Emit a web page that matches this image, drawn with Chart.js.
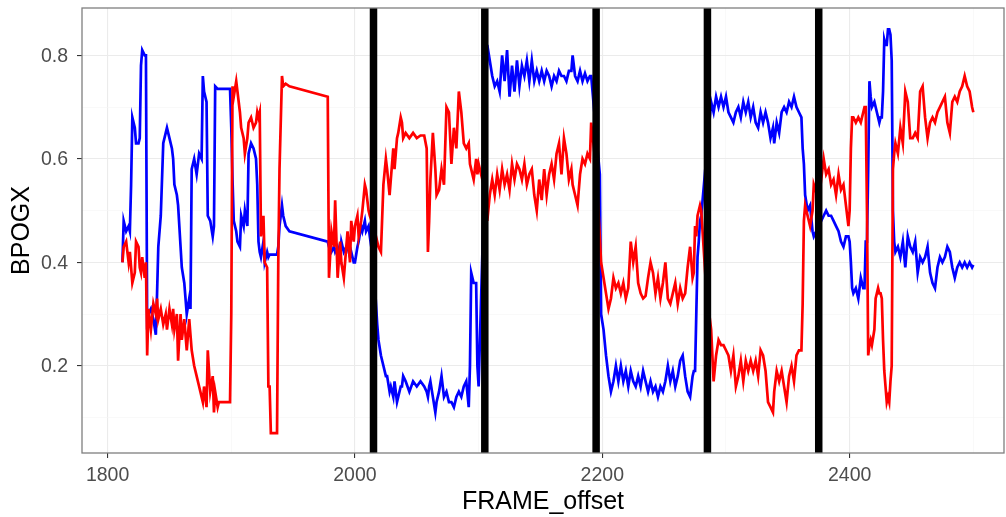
<!DOCTYPE html>
<html><head><meta charset="utf-8">
<script src="https://cdn.jsdelivr.net/npm/chart.js@4"></script>
<style>html,body{margin:0;padding:0;background:#fff;}canvas{display:block;}</style>
</head><body>
<canvas id="c" width="1006" height="517"></canvas>
<script>
const frames = [
1812,1813,1815,1817,1818,1819,1820,1822,1823,1825,
1826,1827,1828,1830,1831,1832,1833,1835,1837,1839,
1840,1841,1843,1845,1847,1848,1850,1852,1853,1854,
1856,1857,1859,1860,1862,1864,1866,1867,1868,1870,
1872,1874,1876,1877,1878,1880,1881,1883,1885,1886,
1887,1889,1890,1899,1900,1901,1902,1904,1905,1907,
1908,1910,1911,1913,1914,1916,1918,1920,1921,1922,
1923,1924,1926,1927,1929,1930,1931,1932,1937,1938,
1939,1941,1942,1944,1947,1978,1979,1981,1983,1984,
1986,1988,1989,1991,1993,1994,1996,1997,1999,2000,
2002,2003,2005,2006,2008,2009,2011,2012,2015,2018,
2019,2021,2023,2025,2026,2028,2029,2031,2032,2034,
2035,2037,2038,2039,2041,2044,2047,2050,2053,2056,
2058,2059,2060,2061,2063,2065,2066,2068,2070,2072,
2074,2076,2078,2080,2082,2084,2086,2088,2090,2092,
2093,2094,2096,2098,2099,2100,2104,2107,2109,2111,
2113,2115,2117,2119,2121,2123,2125,2127,2129,2131,
2133,2135,2137,2139,2141,2143,2145,2147,2149,2151,
2153,2155,2157,2159,2161,2163,2165,2167,2169,2171,
2173,2175,2176,2178,2180,2182,2184,2186,2188,2190,
2191,2195,2198,2199,2201,2203,2205,2207,2209,2211,
2213,2215,2217,2219,2221,2223,2225,2227,2229,2231,
2233,2235,2237,2239,2241,2243,2245,2247,2249,2251,
2253,2255,2257,2259,2261,2263,2265,2267,2269,2271,
2273,2274,2275,2276,2277,2278,2279,2280,2284,2288,
2290,2292,2294,2296,2298,2300,2302,2304,2306,2308,
2310,2312,2314,2316,2318,2320,2322,2324,2326,2328,
2330,2332,2334,2336,2338,2339,2341,2343,2345,2347,
2349,2351,2353,2355,2357,2359,2361,2362,2363,2364,
2366,2368,2370,2371,2375,2379,2381,2383,2385,2387,
2389,2391,2393,2395,2397,2399,2400,2401,2402,2403,
2405,2407,2409,2411,2412,2413,2414,2415,2416,2417,
2418,2420,2421,2422,2423,2424,2425,2426,2427,2428,
2429,2430,2431,2432,2433,2434,2435,2436,2437,2439,
2441,2443,2445,2447,2449,2451,2453,2455,2457,2459,
2461,2463,2465,2467,2469,2471,2473,2475,2477,2479,
2481,2483,2485,2487,2489,2491,2493,2495,2497,2499,2500
];
const blueValues = [
.40,.48,.46,.47,.46,.55,.68,.66,.63,.63,
.64,.78,.81,.80,.80,.27,.30,.31,.29,.26,
.34,.43,.49,.63,.65,.66,.64,.62,.60,.55,
.53,.51,.43,.39,.36,.30,.33,.31,.58,.60,
.57,.61,.60,.76,.73,.71,.49,.48,.45,.47,
.74,.735,.735,.735,.66,.56,.48,.46,.44,.43,
.49,.47,.50,.47,.61,.63,.62,.60,.55,.44,
.42,.41,.44,.40,.42,.41,.415,.415,.415,.43,
.47,.51,.49,.47,.46,.44,.43,.42,.43,.42,
.43,.41,.44,.42,.43,.43,.41,.42,.40,.40,
.43,.44,.47,.46,.48,.46,.47,.45,.40,.28,
.25,.22,.20,.18,.18,.15,.16,.14,.17,.13,
.14,.16,.16,.18,.17,.15,.17,.16,.17,.16,
.15,.14,.16,.17,.14,.11,.13,.15,.18,.14,
.15,.13,.13,.12,.14,.15,.14,.16,.17,.12,
.20,.38,.36,.36,.20,.16,.50,.82,.79,.76,
.74,.75,.73,.80,.75,.81,.72,.78,.73,.79,
.74,.78,.76,.79,.75,.79,.75,.77,.75,.77,
.75,.77,.76,.74,.76,.75,.77,.76,.76,.75,
.77,.77,.80,.76,.75,.77,.75,.765,.75,.76,
.76,.65,.57,.30,.27,.22,.18,.15,.17,.20,
.17,.20,.17,.19,.16,.19,.17,.16,.18,.16,
.19,.17,.15,.17,.15,.16,.14,.16,.15,.17,
.20,.17,.19,.16,.18,.21,.22,.18,.15,.14,
.18,.19,.19,.30,.41,.44,.48,.49,.60,.71,
.69,.72,.70,.72,.70,.72,.69,.68,.67,.69,
.70,.68,.71,.69,.71,.68,.70,.67,.66,.69,
.67,.69,.67,.64,.66,.63,.67,.65,.69,.70,
.69,.71,.70,.72,.70,.69,.68,.62,.59,.53,
.50,.51,.46,.45,.47,.49,.50,.49,.49,.48,
.47,.46,.44,.43,.45,.45,.44,.40,.35,.34,
.35,.33,.37,.35,.35,.44,.44,.58,.75,.72,
.70,.71,.70,.69,.68,.67,.68,.68,.73,.83,
.82,.82,.85,.85,.84,.79,.50,.44,.42,.43,
.41,.44,.39,.45,.43,.42,.44,.38,.41,.40,
.41,.43,.38,.36,.35,.39,.41,.40,.41,.43,
.42,.39,.37,.39,.40,.39,.40,.39,.40,.39,.395
];
const redValues = [
.40,.43,.44,.40,.42,.39,.36,.38,.44,.43,
.39,.38,.41,.37,.40,.22,.31,.27,.32,.30,
.33,.29,.31,.28,.30,.27,.31,.28,.31,.27,
.30,.21,.30,.25,.29,.23,.29,.26,.23,.20,
.18,.16,.14,.13,.16,.12,.23,.15,.18,.11,
.15,.12,.13,.13,.30,.74,.72,.75,.73,.69,
.66,.64,.61,.64,.67,.68,.66,.67,.69,.68,
.69,.45,.49,.40,.39,.16,.16,.07,.07,.40,
.58,.76,.74,.745,.74,.72,.37,.46,.43,.52,
.37,.44,.40,.37,.43,.46,.40,.48,.44,.47,
.49,.45,.48,.50,.55,.54,.50,.49,.47,.44,
.43,.42,.55,.60,.58,.53,.56,.62,.58,.64,
.65,.68,.67,.64,.65,.64,.65,.64,.645,.645,
.62,.42,.48,.56,.65,.58,.53,.54,.58,.55,
.70,.69,.59,.66,.62,.73,.69,.63,.62,.63,
.59,.58,.56,.60,.57,.59,.55,.48,.53,.56,
.53,.57,.54,.58,.55,.57,.54,.59,.56,.59,
.58,.56,.59,.55,.57,.58,.53,.50,.56,.52,
.58,.53,.57,.59,.56,.61,.63,.57,.64,.61,
.56,.58,.55,.53,.51,.57,.60,.59,.61,.60,
.67,.58,.45,.40,.37,.34,.31,.33,.37,.35,
.36,.34,.36,.33,.35,.44,.40,.43,.36,.34,
.33,.335,.37,.40,.38,.34,.37,.33,.36,.40,
.33,.32,.34,.36,.32,.35,.33,.34,.39,.43,
.37,.38,.47,.45,.49,.50,.51,.50,.35,.27,
.17,.22,.25,.24,.24,.23,.22,.19,.22,.16,
.18,.21,.17,.21,.19,.21,.19,.21,.18,.23,
.22,.19,.13,.12,.11,.15,.19,.17,.19,.16,
.13,.18,.20,.17,.22,.23,.23,.32,.48,.51,
.49,.47,.50,.55,.52,.60,.57,.58,.55,.56,
.53,.57,.54,.55,.51,.47,.50,.62,.68,.68,
.67,.68,.67,.69,.70,.70,.50,.22,.24,.25,
.24,.27,.33,.34,.35,.34,.34,.33,.25,.19,
.16,.13,.14,.13,.17,.20,.58,.61,.63,.61,
.66,.63,.73,.71,.64,.64,.65,.64,.73,.74,
.68,.64,.67,.68,.67,.69,.70,.71,.72,.67,
.65,.71,.72,.71,.73,.74,.76,.74,.73,.70,.69
];
const segmentFrames = [2015, 2105, 2195, 2285, 2375];
const xTicks = [1800, 1900, 2000, 2100, 2200, 2300, 2400, 2500];
const xTickLabels = ['1800', '', '2000', '', '2200', '', '2400', ''];
const yTicks = [0.1, 0.2, 0.3, 0.4, 0.5, 0.6, 0.7, 0.8];
const yTickLabels = ['', '0.2', '', '0.4', '', '0.6', '', '0.8'];

const FONT = "'Liberation Sans', Arial, sans-serif";
const toPoints = vals => frames.map((f, i) => ({x: f, y: vals[i]}));
const isMajor = (arr, labels, v) => { const i = arr.findIndex(t => Math.abs(t - v) < 1e-9); return i >= 0 && labels[i] !== ''; };

const panelPlugin = {
  id: 'panel',
  afterDatasetsDraw(chart) {
    const {ctx, chartArea: a, scales: {x}} = chart;
    ctx.save();
    ctx.beginPath();
    ctx.rect(a.left, a.top, a.right - a.left, a.bottom - a.top);
    ctx.clip();
    ctx.strokeStyle = '#000000';
    ctx.lineWidth = 7.5;
    segmentFrames.forEach(f => {
      const px = x.getPixelForValue(f);
      ctx.beginPath();
      ctx.moveTo(px, a.top);
      ctx.lineTo(px, a.bottom);
      ctx.stroke();
    });
    ctx.restore();
    ctx.save();
    ctx.strokeStyle = '#7f7f7f';
    ctx.lineWidth = 1.3;
    ctx.strokeRect(a.left, a.top, a.right - a.left, a.bottom - a.top);
    ctx.restore();
  }
};

new Chart(document.getElementById('c'), {
  type: 'line',
  data: {
    datasets: [
      {label: 'red', data: toPoints(redValues), borderColor: '#ff0000', borderWidth: 2.7, pointRadius: 0, tension: 0, fill: false},
      {label: 'blue', data: toPoints(blueValues), borderColor: '#0000ff', borderWidth: 2.7, pointRadius: 0, tension: 0, fill: false}
    ]
  },
  options: {
    responsive: false,
    animation: false,
    devicePixelRatio: 1,
    layout: {padding: {top: 8, right: 2, left: 0, bottom: 0}},
    plugins: {legend: {display: false}, tooltip: {enabled: false}},
    scales: {
      x: {
        type: 'linear',
        min: 1779.3,
        max: 2524.8,
        afterBuildTicks: s => { s.ticks = xTicks.map(v => ({value: v})); },
        afterFit: s => { s.height = 64; s.paddingLeft = 0; s.paddingRight = 0; },
        ticks: {
          autoSkip: false, maxRotation: 0, padding: 6,
          color: '#4d4d4d', font: {family: FONT, size: 19.5},
          callback: (v, i) => xTickLabels[i]
        },
        grid: {
          drawTicks: true, tickLength: 5, tickWidth: 1.1,
          color: c => (c.tick && isMajor(xTicks, xTickLabels, c.tick.value)) ? '#ebebeb' : '#f5f5f5',
          lineWidth: c => (c.tick && isMajor(xTicks, xTickLabels, c.tick.value)) ? 1.1 : 0.6,
          tickColor: c => (c.tick && isMajor(xTicks, xTickLabels, c.tick.value)) ? '#333333' : 'rgba(0,0,0,0)'
        },
        border: {display: false},
        title: {display: true, text: 'FRAME_offset', color: '#000000', font: {family: FONT, size: 25}, padding: {top: 0, bottom: 0}}
      },
      y: {
        type: 'linear',
        min: 0.0315,
        max: 0.8914,
        afterBuildTicks: s => { s.ticks = yTicks.map(v => ({value: v})); },
        afterFit: s => { s.width = 82; s.paddingTop = 0; s.paddingBottom = 0; },
        ticks: {
          autoSkip: false, padding: 9, labelOffset: 1,
          color: '#4d4d4d', font: {family: FONT, size: 19.5},
          callback: (v, i) => yTickLabels[i]
        },
        grid: {
          drawTicks: true, tickLength: 5, tickWidth: 1.1,
          color: c => (c.tick && isMajor(yTicks, yTickLabels, c.tick.value)) ? '#ebebeb' : '#f5f5f5',
          lineWidth: c => (c.tick && isMajor(yTicks, yTickLabels, c.tick.value)) ? 1.1 : 0.6,
          tickColor: c => (c.tick && isMajor(yTicks, yTickLabels, c.tick.value)) ? '#333333' : 'rgba(0,0,0,0)'
        },
        border: {display: false},
        title: {display: true, text: 'BPOGX', color: '#000000', font: {family: FONT, size: 25}, padding: {top: 7.5, bottom: 0}}
      }
    }
  },
  plugins: [panelPlugin]
});
</script>
</body></html>
